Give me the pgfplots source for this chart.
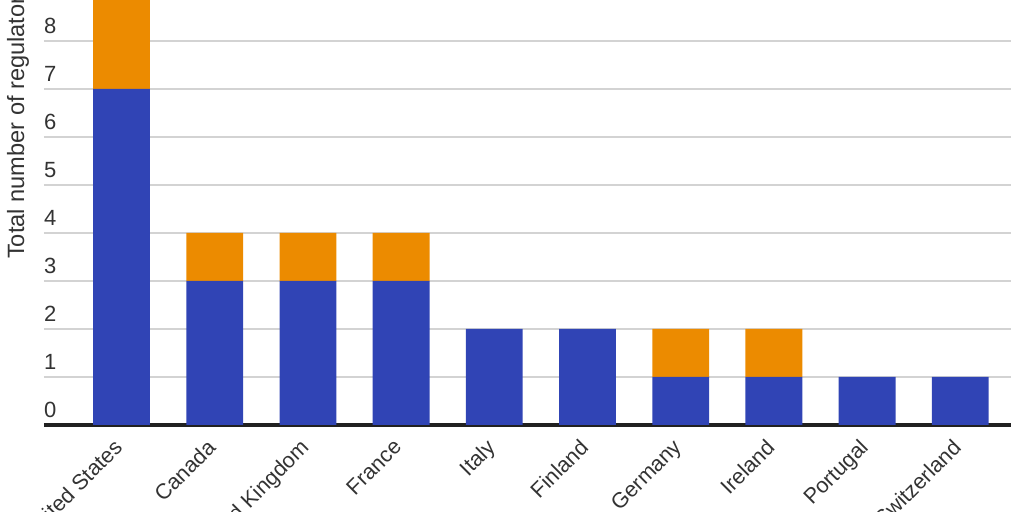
\documentclass[border=0pt]{standalone}
\usepackage{fontspec}
\setmainfont{Liberation Sans}
\usepackage{pgfplots}
\pgfplotsset{compat=1.18}
\definecolor{barblue}{RGB}{48,68,181}
\definecolor{barorange}{RGB}{236,139,0}
\definecolor{gridgray}{RGB}{211,211,211}
\definecolor{txt}{RGB}{51,51,51}
\begin{document}
\begin{tikzpicture}
\begin{axis}[
    scale only axis,
    width=483.5pt, height=240pt,
    xmin=-0.832, xmax=9.544,
    ymin=0, ymax=10,
    ybar stacked,
    bar width=0.61,
    axis line style={draw=none},
    major tick length=0pt,
    ymajorgrids,
    grid style={gridgray, line width=1pt},
    ytick={0,1,2,3,4,5,6,7,8,9,10},
    yticklabel style={xshift=-3.5pt, yshift=0pt, anchor=south west,
        font=\fontsize{11}{13}\selectfont, text=txt,
        /pgf/number format/assume math mode=true},
    xtick=data,
    xticklabels={United States,Canada,United Kingdom,France,Italy,Finland,Germany,Ireland,Portugal,Switzerland},
    xticklabel style={xshift=-4.5pt, yshift=-1.5pt, rotate=45, anchor=north east,
        font=\fontsize{10.8}{13}\selectfont, text=txt},
    clip=false,
]
\addplot[fill=barblue, draw=none] coordinates {
    (0,7) (1,3) (2,3) (3,3) (4,2) (5,2) (6,1) (7,1) (8,1) (9,1)};
\addplot[fill=barorange, draw=none] coordinates {
    (0,2) (1,1) (2,1) (3,1) (4,0) (5,0) (6,1) (7,1) (8,0) (9,0)};
\draw[line width=2pt, color=black!87] (axis cs:-0.832,0) -- (axis cs:9.544,0);
\end{axis}
\node[rotate=90, anchor=west, text=txt, font=\fontsize{11.8}{14}\selectfont]
    at (-13pt,79.5pt) {Total number of regulators};
\pgfresetboundingbox
\useasboundingbox (-22pt,-43.5pt) rectangle (490pt,212.5pt);
\end{tikzpicture}
\end{document}
